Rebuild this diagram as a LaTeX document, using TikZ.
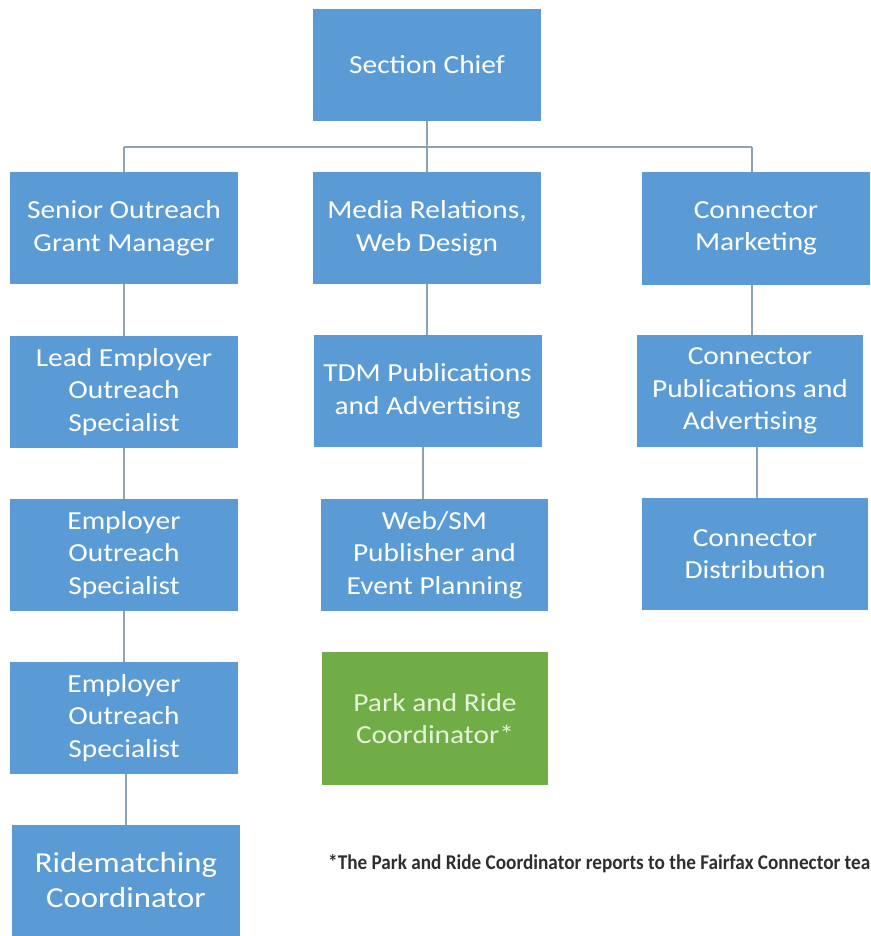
\documentclass[tikz,border=0pt]{standalone}
\usepackage{fontspec}
\setmainfont{Carlito}
\newfontfamily\boxfont[FakeStretch=1.13]{Carlito}
\newfontfamily\notefont[FakeStretch=0.915]{Carlito}
\usetikzlibrary{positioning}
\definecolor{orgblue}{HTML}{5B9BD5}
\definecolor{orggreen}{HTML}{70AD47}
\definecolor{orgline}{HTML}{8EA2B6}
\definecolor{parktext}{HTML}{E6F4DA}
\definecolor{notegray}{HTML}{2E2E2E}

\begin{document}
\begin{tikzpicture}[
  x=1pt, y=-1pt,
  box/.style={fill=orgblue, text=white, align=center, inner sep=0pt,
              minimum width=228pt, minimum height=112pt,
              font=\boxfont\fontsize{26pt}{32.5pt}\selectfont},
  parkbox/.style={box, fill=orggreen, text=parktext, minimum height=133pt},
  bigbox/.style={box, minimum height=111pt,
                 font=\boxfont\fontsize{29pt}{35pt}\selectfont},
  link/.style={draw=orgline, line width=2pt},
  note/.style={anchor=base west, inner sep=0pt, text=notegray,
               font=\notefont\bfseries\fontsize{21pt}{25pt}\selectfont},
]
\useasboundingbox (0,0) rectangle (870,936);

% ---------------- top ----------------
\node[box] (chief) at (427,65) {Section Chief};

% ---------------- left column ----------------
\node[box] (senior) at (124,228) {Senior Outreach\\Grant Manager};
\node[box] (lead)   at (124,392) {Lead Employer\\Outreach\\Specialist};
\node[box] (emp1)   at (124,555) {Employer\\Outreach\\Specialist};
\node[box] (emp2)   at (124,718) {Employer\\Outreach\\Specialist};
\node[bigbox] (ride) at (126,880.5) {Ridematching\\Coordinator};

% ---------------- middle column ----------------
\node[box] (media) at (427,228) {Media Relations,\\Web Design};
\node[box] (tdm)   at (427.5,391) {TDM Publications\\and Advertising};
\node[box, minimum width=227pt] (websm) at (434.5,555)
  {Web/SM\\Publisher and\\Event Planning};
\node[parkbox, minimum width=226pt] (park) at (435,718.5)
  {Park and Ride\\Coordinator*};

% ---------------- right column ----------------
\node[box] (cmark) at (756,228.5) {Connector\\Marketing};
\node[box, minimum width=226pt] (cpub) at (750,391)
  {Connector\\Publications and\\Advertising};
\node[box, minimum width=226pt] (cdist) at (755,554)
  {Connector\\Distribution};

% ---------------- footnote ----------------
\node[note] (foot) at (328,869)
  {*The Park and Ride Coordinator reports to the Fairfax Connector tea};

% ---------------- connectors ----------------
\coordinate (busL) at (124,147);
\coordinate (busR) at (752,147);
\draw[link] (chief.south) -- (chief.south |- busL);
\draw[link] (busL) -- (busR);
\draw[link] (busL) -- (senior.north);
\draw[link] (media.north |- busL) -- (media.north);
\draw[link] (busR) -- (busR |- cmark.north);

\draw[link] (senior.south) -- (lead.north);
\draw[link] (lead.south) -- (emp1.north);
\draw[link] (emp1.south) -- (emp2.north);
\draw[link] (ride.north |- emp2.south) -- (ride.north);

\draw[link] (media.south) -- (media.south |- tdm.north);
\draw[link] ([xshift=-5pt]tdm.south) -- ([xshift=-5pt]tdm.south |- websm.north);

\draw[link] (busR |- cmark.south) -- (busR |- cpub.north);
\draw[link] ([xshift=7pt]cpub.south) -- ([xshift=7pt]cpub.south |- cdist.north);

\end{tikzpicture}
\end{document}
